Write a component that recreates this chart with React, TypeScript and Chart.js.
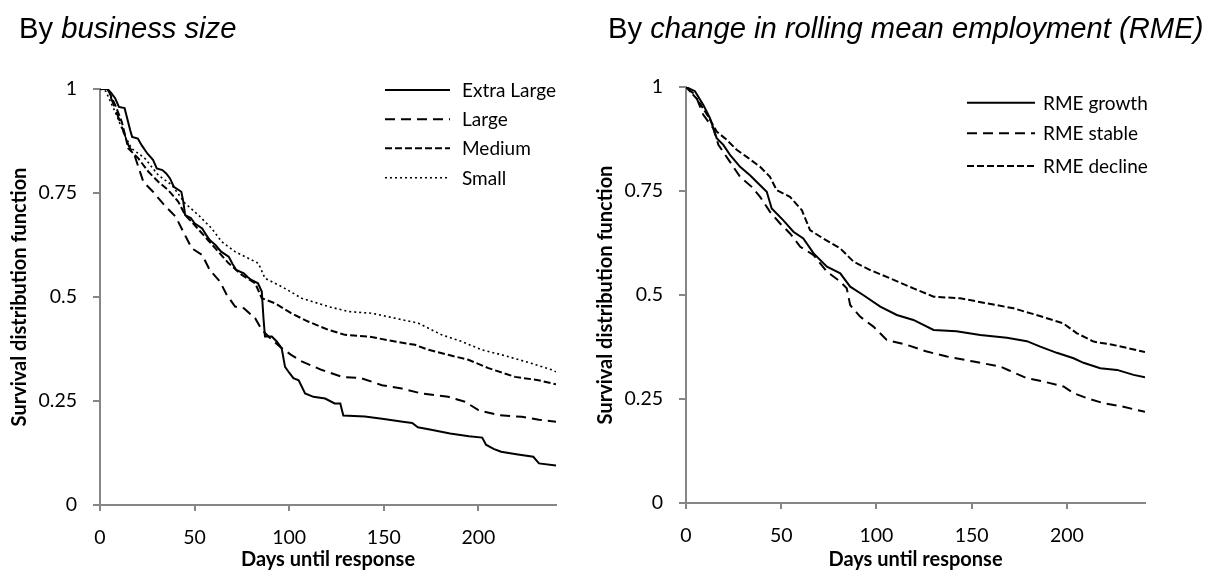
import React, { useEffect, useRef } from 'react';
import { Chart, registerables } from 'chart.js';

Chart.register(...registerables);

// ---------- Data: left panel (business size) ----------
const xlDays = [0, 4, 6, 8, 10, 13, 16, 17, 20, 22, 25, 28, 30, 33, 35, 37, 39, 43, 44, 45, 48, 50, 54, 56, 58, 61, 64, 68, 70, 72, 76, 78, 80, 83.5, 85.5, 86.4, 87.2, 90.8, 93.4, 96, 97.8, 100, 102.2, 105, 108.4, 112.8, 119, 124, 127, 128.6, 140, 150, 160, 165, 168, 175, 185, 195, 202, 204, 208, 212, 220, 229, 232, 241];
const xlSurv = [1, 1, 0.99, 0.978, 0.957, 0.954, 0.9, 0.885, 0.881, 0.865, 0.845, 0.83, 0.809, 0.805, 0.797, 0.785, 0.765, 0.753, 0.73, 0.697, 0.69, 0.677, 0.665, 0.65, 0.637, 0.625, 0.609, 0.597, 0.58, 0.565, 0.557, 0.548, 0.541, 0.533, 0.513, 0.449, 0.405, 0.405, 0.393, 0.377, 0.332, 0.318, 0.305, 0.3, 0.268, 0.26, 0.256, 0.244, 0.244, 0.215, 0.213, 0.207, 0.2, 0.197, 0.187, 0.181, 0.172, 0.165, 0.162, 0.145, 0.135, 0.128, 0.122, 0.116, 0.1, 0.095];

const lgDays = [0, 4, 8, 10.6, 15, 18.5, 22.9, 28, 34, 40, 44, 48.5, 54, 58, 63.4, 67, 71.4, 76, 82, 85.5, 90, 96, 101, 106.6, 117, 128, 138, 149, 159.5, 170, 184, 193, 200, 210.6, 223, 232, 241];
const lgSurv = [1, 1, 0.953, 0.921, 0.865, 0.837, 0.777, 0.753, 0.721, 0.693, 0.657, 0.617, 0.601, 0.565, 0.537, 0.505, 0.477, 0.473, 0.449, 0.421, 0.401, 0.377, 0.361, 0.345, 0.325, 0.308, 0.305, 0.288, 0.28, 0.268, 0.26, 0.248, 0.228, 0.216, 0.212, 0.205, 0.2];

const mdDays = [0, 4, 8, 11.5, 15, 20.3, 25.6, 30.8, 36, 41.4, 45, 50, 57, 62.5, 68, 75, 82, 85.5, 92.5, 101, 110, 120.7, 129.5, 142, 156, 166.5, 173.6, 184, 194.7, 205.3, 219.4, 231.7, 241];
const mdSurv = [1, 1, 0.962, 0.921, 0.857, 0.833, 0.801, 0.777, 0.757, 0.729, 0.697, 0.673, 0.637, 0.609, 0.581, 0.553, 0.533, 0.497, 0.485, 0.461, 0.441, 0.421, 0.409, 0.405, 0.393, 0.385, 0.373, 0.361, 0.349, 0.329, 0.308, 0.3, 0.29];

const smDays = [0, 3, 8, 13, 16.7, 23.8, 30.8, 38, 45, 52, 59, 64.3, 71.4, 78.4, 83.7, 87.2, 96, 106.6, 120.7, 131.3, 143.6, 156, 168.3, 180.6, 191.2, 201.8, 212.4, 224.7, 238.8, 241];
const smSurv = [1, 0.995, 0.945, 0.889, 0.857, 0.833, 0.793, 0.769, 0.725, 0.697, 0.665, 0.633, 0.609, 0.593, 0.581, 0.545, 0.525, 0.497, 0.477, 0.465, 0.461, 0.449, 0.437, 0.409, 0.393, 0.373, 0.361, 0.345, 0.325, 0.32];

// ---------- Data: right panel (RME change) ----------
const grDays = [0, 4.7, 9.1, 12.6, 16.1, 19.6, 23.1, 28.4, 33.6, 38.9, 42.4, 45, 51, 56.4, 61.6, 67, 74, 81, 86.2, 93, 102, 110.7, 119.4, 130, 142, 154.5, 168.5, 179, 186, 194.7, 203.5, 208.7, 217.5, 226.3, 235, 241];
const grSurv = [1, 0.99, 0.957, 0.925, 0.877, 0.861, 0.837, 0.808, 0.788, 0.764, 0.748, 0.708, 0.68, 0.652, 0.636, 0.6, 0.568, 0.552, 0.52, 0.5, 0.472, 0.452, 0.44, 0.416, 0.413, 0.404, 0.397, 0.389, 0.376, 0.361, 0.348, 0.337, 0.324, 0.32, 0.308, 0.302];

const stDays = [0, 5, 9.1, 14.3, 17, 23.1, 28.4, 34.5, 38.9, 44.1, 49.4, 54.6, 60, 67, 74, 81, 84.4, 86.2, 91.4, 98.4, 105.4, 116, 126.5, 137, 151, 165, 170, 179, 187.7, 198.2, 203.5, 210.5, 219.2, 228, 241];
const stSurv = [1, 0.98, 0.933, 0.901, 0.861, 0.82, 0.784, 0.76, 0.736, 0.7, 0.672, 0.648, 0.616, 0.596, 0.556, 0.532, 0.516, 0.476, 0.448, 0.424, 0.392, 0.38, 0.364, 0.352, 0.34, 0.328, 0.318, 0.3, 0.292, 0.28, 0.264, 0.252, 0.24, 0.233, 0.219];

const dcDays = [0, 6, 11.7, 16.1, 21.4, 26.6, 31.9, 38.9, 44.1, 47.6, 54.6, 60.8, 65.1, 72, 81, 88, 96.7, 107.2, 119.4, 130, 144, 158, 172, 184, 198, 205.3, 214, 224.5, 241];
const dcSurv = [1, 0.97, 0.929, 0.893, 0.873, 0.849, 0.832, 0.808, 0.784, 0.752, 0.736, 0.704, 0.656, 0.636, 0.612, 0.58, 0.56, 0.54, 0.516, 0.496, 0.492, 0.48, 0.468, 0.452, 0.432, 0.408, 0.388, 0.38, 0.363];

// ---------- Axis ticks ----------
const xTicks = [0, 50, 100, 150, 200];
const yTicks = [0, 0.25, 0.5, 0.75, 1];
const X_MAX = 241;

const leftLabels = ['Extra Large', 'Large', 'Medium', 'Small'];
const rightLabels = ['RME growth', 'RME stable', 'RME decline'];

// ---------- Styles ----------
const AXIS_GRAY = '#868686';
const FONT = 'Lato';
const SOLID: number[] = [];
const LONG_DASH = [10, 6];
const SHORT_DASH = [7, 3];
const DOTTED = [2, 3];

function pts(d: number[], s: number[]) {
  return d.map((x, i) => ({ x, y: s[i] }));
}

function ds(label: string, d: number[], s: number[], dash: number[], width = 2) {
  return {
    label,
    data: pts(d, s),
    borderColor: '#000',
    borderWidth: width,
    borderDash: dash,
    pointRadius: 0,
    tension: 0,
    fill: false,
  };
}

function legendPlugin(x0: number, x1: number, tx: number, rows: number[]) {
  return {
    id: 'customLegend',
    afterDraw(chart: any) {
      const ctx = chart.ctx;
      chart.data.datasets.forEach((d: any, i: number) => {
        const y = rows[i];
        ctx.save();
        ctx.strokeStyle = '#000';
        ctx.lineWidth = d.borderWidth;
        ctx.setLineDash(d.borderDash || []);
        ctx.beginPath();
        ctx.moveTo(x0, y);
        ctx.lineTo(x1, y);
        ctx.stroke();
        ctx.setLineDash([]);
        ctx.fillStyle = '#000';
        ctx.font = `19px ${FONT}`;
        ctx.textBaseline = 'alphabetic';
        ctx.textAlign = 'left';
        ctx.fillText(d.label, tx, y + 7);
        ctx.restore();
      });
    },
  };
}

function makeConfig(datasets: any[], pad: { top: number; right: number }, xAxisH: number, legend: any): any {
  const tickFont = { family: FONT, size: 19.5 };
  const titleFont = { family: FONT, size: 20, weight: 'bold' as const };
  return {
    type: 'line',
    data: { datasets },
    options: {
      responsive: false,
      animation: false,
      layout: { padding: { top: pad.top, right: pad.right, left: 0, bottom: 0 } },
      plugins: { legend: { display: false }, tooltip: { enabled: false } },
      scales: {
        x: {
          type: 'linear',
          min: 0,
          max: X_MAX,
          afterBuildTicks: (s: any) => {
            s.ticks = xTicks.map((v) => ({ value: v }));
          },
          afterFit: (s: any) => {
            s.height = xAxisH;
          },
          ticks: { color: '#000', font: tickFont, padding: 15, maxRotation: 0, autoSkip: false, callback: (v: any) => String(v) },
          grid: { drawOnChartArea: false, drawTicks: true, tickLength: 6, color: AXIS_GRAY, lineWidth: 2 },
          border: { display: true, color: AXIS_GRAY, width: 2 },
          title: { display: true, text: 'Days until response', color: '#000', font: titleFont, padding: { top: 0, bottom: 0 } },
        },
        y: {
          type: 'linear',
          min: 0,
          max: 1,
          afterBuildTicks: (s: any) => {
            s.ticks = yTicks.map((v) => ({ value: v }));
          },
          afterFit: (s: any) => {
            s.width = 100;
          },
          ticks: { color: '#000', font: tickFont, padding: 16, autoSkip: false, callback: (v: any) => String(v) },
          grid: { drawOnChartArea: false, drawTicks: true, tickLength: 7, color: AXIS_GRAY, lineWidth: 2 },
          border: { display: true, color: AXIS_GRAY, width: 2 },
          title: { display: true, text: 'Survival distribution function', color: '#000', font: titleFont, padding: { top: 7.5, bottom: 0 } },
        },
      },
    },
    plugins: [legend],
  };
}

function Panel(props: { left: number; width: number; config: () => any }) {
  const ref = useRef<HTMLCanvasElement | null>(null);
  useEffect(() => {
    if (!ref.current) return;
    const chart = new Chart(ref.current, props.config());
    return () => chart.destroy();
  }, []);
  return (
    <canvas
      ref={ref}
      width={props.width}
      height={572}
      style={{ position: 'absolute', left: props.left, top: 0, width: props.width, height: 572 }}
    />
  );
}

const titleStyle: React.CSSProperties = {
  position: 'absolute',
  top: 14,
  fontFamily: '"Liberation Sans", Arial, sans-serif',
  fontSize: 29.2,
  lineHeight: 1,
  color: '#000',
  whiteSpace: 'nowrap',
};

export default function App() {
  const leftConfig = () =>
    makeConfig(
      [
        ds(leftLabels[0], xlDays, xlSurv, SOLID, 2),
        ds(leftLabels[1], lgDays, lgSurv, LONG_DASH, 2),
        ds(leftLabels[2], mdDays, mdSurv, SHORT_DASH, 2),
        ds(leftLabels[3], smDays, smSurv, DOTTED, 1.6),
      ],
      { top: 89, right: 30 },
      67,
      legendPlugin(385, 450, 462, [90, 119.3, 148.3, 177.7])
    );
  const rightConfig = () =>
    makeConfig(
      [
        ds(rightLabels[0], grDays, grSurv, SOLID, 2),
        ds(rightLabels[1], stDays, stSurv, LONG_DASH, 2),
        ds(rightLabels[2], dcDays, dcSurv, SHORT_DASH, 2),
      ],
      { top: 87, right: 71 },
      69,
      legendPlugin(381, 449, 457, [102.7, 133.3, 166])
    );
  return (
    <div style={{ position: 'absolute', left: 0, top: 0, width: 1216, height: 572, background: '#fff', overflow: 'hidden' }}>
      <Panel left={0} width={586} config={leftConfig} />
      <Panel left={586} width={630} config={rightConfig} />
      <div style={{ ...titleStyle, left: 19 }}>
        By <i>business size</i>
      </div>
      <div style={{ ...titleStyle, left: 608 }}>
        By <i>change in rolling mean employment (RME)</i>
      </div>
    </div>
  );
}
